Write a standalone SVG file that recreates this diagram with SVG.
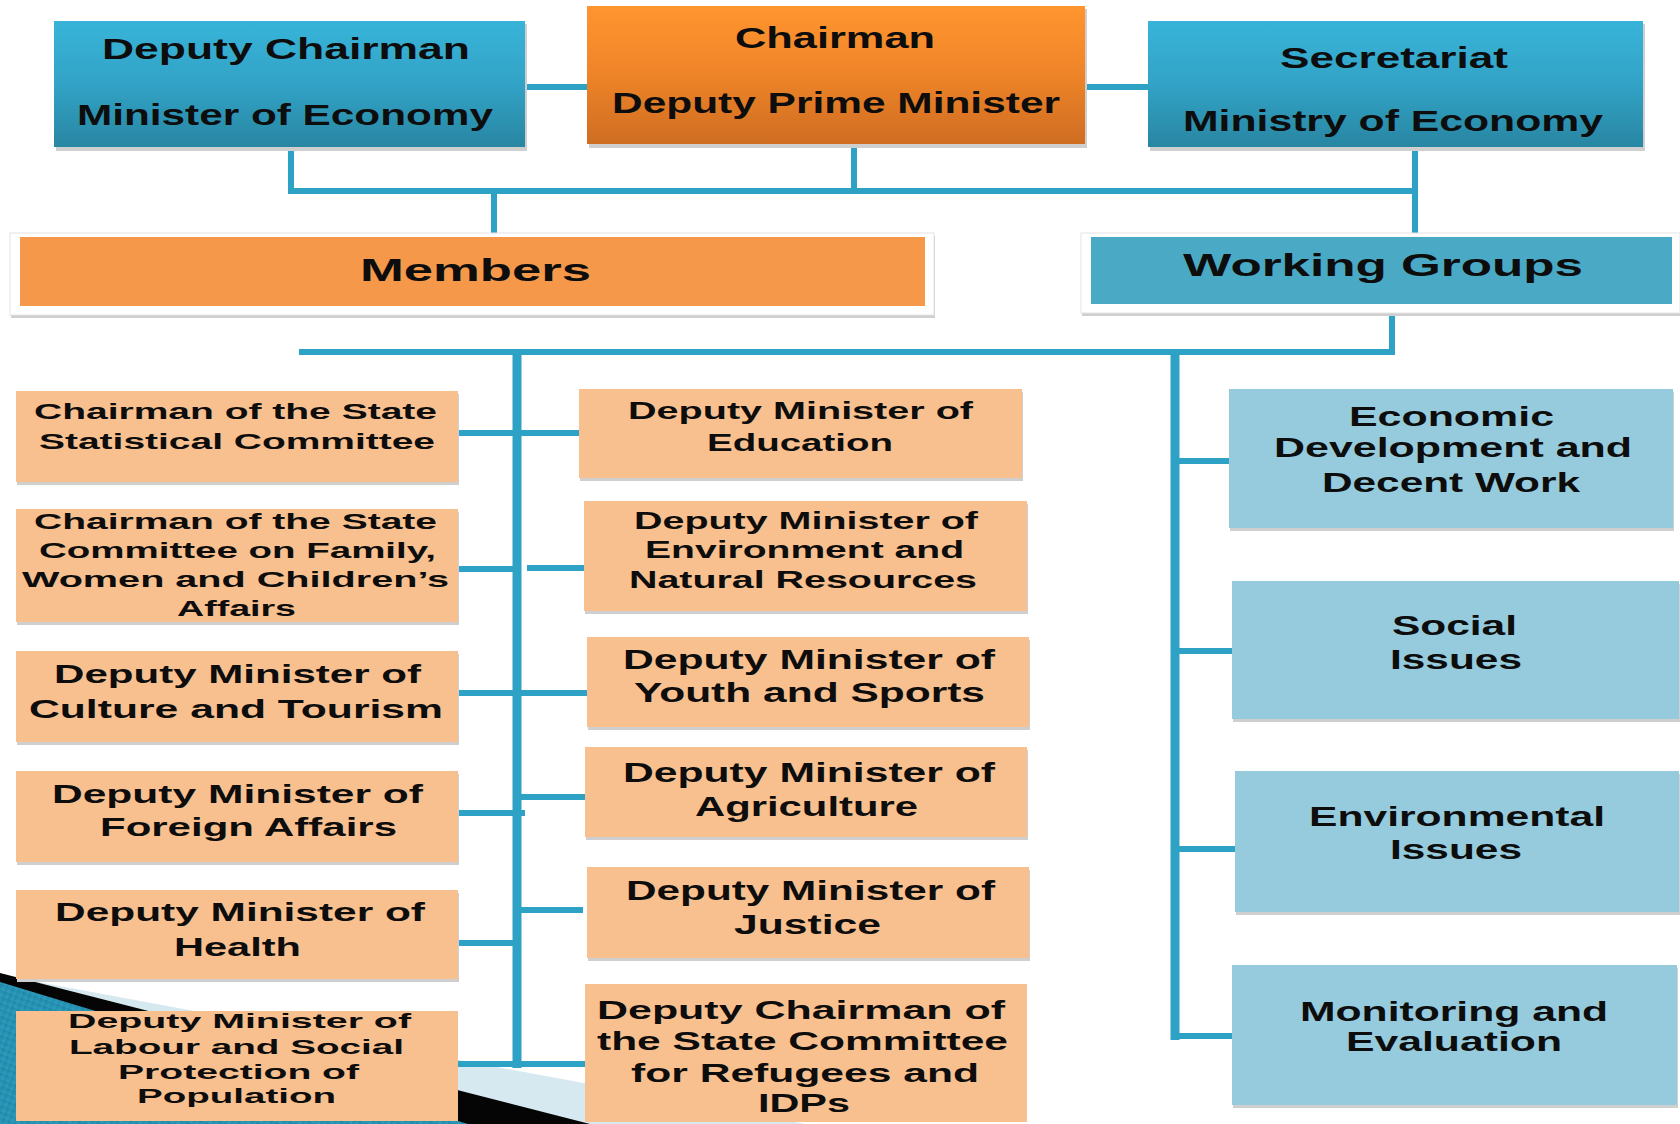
<svg xmlns="http://www.w3.org/2000/svg" width="1680" height="1124" viewBox="0 0 1680 1124">
<defs>
<linearGradient id="gBlue" x1="0" y1="0" x2="0" y2="1">
<stop offset="0" stop-color="#38b4d9"/><stop offset="0.5" stop-color="#32a3c6"/><stop offset="1" stop-color="#2886a2"/>
</linearGradient>
<linearGradient id="gOrange" x1="0" y1="0" x2="0" y2="1">
<stop offset="0" stop-color="#ff952f"/><stop offset="0.5" stop-color="#ee8428"/><stop offset="1" stop-color="#cf6d22"/>
</linearGradient>
<linearGradient id="gTeal" x1="0" y1="0" x2="1" y2="1">
<stop offset="0" stop-color="#1b7f9f"/><stop offset="1" stop-color="#2ea1c3"/>
</linearGradient>
<pattern id="stripes" width="6" height="6" patternUnits="userSpaceOnUse" patternTransform="rotate(20)">
<rect width="6" height="6" fill="url(#gTeal)"/>
<line x1="0" y1="0" x2="0" y2="6" stroke="#5fb9d4" stroke-width="1" opacity="0.5"/>
</pattern>
<style>
.sh{fill:#cfcfcf}
.lo{fill:#f9c08f}
.lb{fill:#95cbdc}
.card{fill:#ffffff;stroke:#e4e4e4;stroke-width:1}
.t{font-family:"Liberation Sans",Arial,sans-serif;font-weight:bold;fill:#0d0d0d}
.c{fill:none;stroke:#2ea2c4;stroke-width:6;stroke-linecap:butt}
.trunk{stroke-width:9}
</style>
</defs>
<rect width="1680" height="1124" fill="#ffffff"/>

<g id="decoration">
<polygon points="0,975 805,1124 0,1124" fill="#d6e9f1"/>
<polygon points="0,973 590,1124 0,1124" fill="#050505"/>
<polygon points="0,982 468,1124 0,1124" fill="url(#stripes)"/>
</g>

<g id="connectors">
<path class="c" d="M525 87H588M1085 87H1148M291 147V191M288 191H1418M854 144V191M494 191V240M1415 147V240M1392 306V352M299 352H1395"/>
<path class="c trunk" d="M517 349V1068M1175 349V1040"/>
<path class="c" d="M458 433H579M458 569H517M527 568H593M452 693H588M458 813H525M517 797H587M456 943H517M517 910H583M454 1064H585"/>
<path class="c" d="M1175 461H1234M1175 651H1234M1175 849H1235M1175 1036H1232"/>
</g>

<g id="deputy-chairman">
<rect class="sh" x="56" y="24" width="471" height="127"/>
<rect x="54" y="21" width="471" height="126" fill="url(#gBlue)"/>
<text class="t" x="102" y="59" font-size="29" textLength="368" lengthAdjust="spacingAndGlyphs">Deputy Chairman</text>
<text class="t" x="77" y="125" font-size="29" textLength="416" lengthAdjust="spacingAndGlyphs">Minister of Economy</text>
</g>
<g id="chairman">
<rect class="sh" x="589" y="9" width="498" height="139"/>
<rect x="587" y="6" width="498" height="138" fill="url(#gOrange)"/>
<text class="t" x="735" y="48" font-size="29" textLength="200" lengthAdjust="spacingAndGlyphs">Chairman</text>
<text class="t" x="612" y="113" font-size="29" textLength="448" lengthAdjust="spacingAndGlyphs">Deputy Prime Minister</text>
</g>
<g id="secretariat">
<rect class="sh" x="1150" y="24" width="495" height="127"/>
<rect x="1148" y="21" width="495" height="126" fill="url(#gBlue)"/>
<text class="t" x="1280" y="68" font-size="29" textLength="228" lengthAdjust="spacingAndGlyphs">Secretariat</text>
<text class="t" x="1183" y="131" font-size="29" textLength="420" lengthAdjust="spacingAndGlyphs">Ministry of Economy</text>
</g>

<g id="members">
<rect class="sh" x="11" y="236" width="924" height="82"/>
<rect class="card" x="10" y="233" width="924" height="82"/>
<rect x="20" y="237" width="905" height="69" fill="#f5984a"/>
<text class="t" x="360" y="281" font-size="32" textLength="231" lengthAdjust="spacingAndGlyphs">Members</text>
</g>
<g id="working-groups">
<rect class="sh" x="1082" y="236" width="599" height="80"/>
<rect class="card" x="1081" y="233" width="599" height="80"/>
<rect x="1091" y="237" width="581" height="67" fill="#4aaac6"/>
<text class="t" x="1183" y="276" font-size="32" textLength="400" lengthAdjust="spacingAndGlyphs">Working Groups</text>
</g>

<g id="stat-committee">
<rect class="sh" x="17" y="394" width="442" height="91"/>
<rect class="lo" x="16" y="391" width="442" height="91"/>
<text class="t" x="34" y="419" font-size="22" textLength="403" lengthAdjust="spacingAndGlyphs">Chairman of the State</text>
<text class="t" x="39" y="449" font-size="22" textLength="396" lengthAdjust="spacingAndGlyphs">Statistical Committee</text>
</g>
<g id="family-committee">
<rect class="sh" x="17" y="512" width="442" height="113"/>
<rect class="lo" x="16" y="509" width="442" height="113"/>
<text class="t" x="34" y="529" font-size="22" textLength="403" lengthAdjust="spacingAndGlyphs">Chairman of the State</text>
<text class="t" x="39" y="558" font-size="22" textLength="397" lengthAdjust="spacingAndGlyphs">Committee on Family,</text>
<text class="t" x="22" y="587" font-size="22" textLength="427" lengthAdjust="spacingAndGlyphs">Women and Children’s</text>
<text class="t" x="177" y="616" font-size="22" textLength="119" lengthAdjust="spacingAndGlyphs">Affairs</text>
</g>
<g id="culture">
<rect class="sh" x="17" y="654" width="442" height="91"/>
<rect class="lo" x="16" y="651" width="442" height="91"/>
<text class="t" x="54" y="683" font-size="26" textLength="367" lengthAdjust="spacingAndGlyphs">Deputy Minister of</text>
<text class="t" x="29" y="718" font-size="26" textLength="414" lengthAdjust="spacingAndGlyphs">Culture and Tourism</text>
</g>
<g id="foreign">
<rect class="sh" x="17" y="774" width="442" height="91"/>
<rect class="lo" x="16" y="771" width="442" height="91"/>
<text class="t" x="52" y="803" font-size="25" textLength="371" lengthAdjust="spacingAndGlyphs">Deputy Minister of</text>
<text class="t" x="100" y="836" font-size="25" textLength="297" lengthAdjust="spacingAndGlyphs">Foreign Affairs</text>
</g>
<g id="health">
<rect class="sh" x="17" y="893" width="442" height="89"/>
<rect class="lo" x="16" y="890" width="442" height="89"/>
<text class="t" x="55" y="921" font-size="26" textLength="370" lengthAdjust="spacingAndGlyphs">Deputy Minister of</text>
<text class="t" x="174" y="956" font-size="26" textLength="127" lengthAdjust="spacingAndGlyphs">Health</text>
</g>
<g id="labour">
<rect class="lo" x="16" y="1011" width="442" height="110"/>
<text class="t" x="68" y="1028" font-size="21" textLength="343" lengthAdjust="spacingAndGlyphs">Deputy Minister of</text>
<text class="t" x="69" y="1054" font-size="21" textLength="335" lengthAdjust="spacingAndGlyphs">Labour and Social</text>
<text class="t" x="118" y="1079" font-size="21" textLength="241" lengthAdjust="spacingAndGlyphs">Protection of</text>
<text class="t" x="137" y="1103" font-size="21" textLength="199" lengthAdjust="spacingAndGlyphs">Population</text>
</g>

<g id="education">
<rect class="sh" x="580" y="392" width="443" height="89"/>
<rect class="lo" x="579" y="389" width="443" height="89"/>
<text class="t" x="628" y="419" font-size="23.5" textLength="345" lengthAdjust="spacingAndGlyphs">Deputy Minister of</text>
<text class="t" x="707" y="451" font-size="23.5" textLength="186" lengthAdjust="spacingAndGlyphs">Education</text>
</g>
<g id="environment">
<rect class="sh" x="585" y="504" width="443" height="110"/>
<rect class="lo" x="584" y="501" width="443" height="110"/>
<text class="t" x="634" y="529" font-size="23.5" textLength="344" lengthAdjust="spacingAndGlyphs">Deputy Minister of</text>
<text class="t" x="645" y="558" font-size="23.5" textLength="319" lengthAdjust="spacingAndGlyphs">Environment and</text>
<text class="t" x="629" y="588" font-size="23.5" textLength="348" lengthAdjust="spacingAndGlyphs">Natural Resources</text>
</g>
<g id="youth">
<rect class="sh" x="588" y="640" width="442" height="90"/>
<rect class="lo" x="587" y="637" width="442" height="90"/>
<text class="t" x="623" y="669" font-size="28" textLength="372" lengthAdjust="spacingAndGlyphs">Deputy Minister of</text>
<text class="t" x="634" y="702" font-size="28" textLength="351" lengthAdjust="spacingAndGlyphs">Youth and Sports</text>
</g>
<g id="agriculture">
<rect class="sh" x="586" y="750" width="442" height="90"/>
<rect class="lo" x="585" y="747" width="442" height="90"/>
<text class="t" x="623" y="782" font-size="27" textLength="372" lengthAdjust="spacingAndGlyphs">Deputy Minister of</text>
<text class="t" x="695" y="816" font-size="27" textLength="223" lengthAdjust="spacingAndGlyphs">Agriculture</text>
</g>
<g id="justice">
<rect class="sh" x="588" y="870" width="442" height="91"/>
<rect class="lo" x="587" y="867" width="442" height="91"/>
<text class="t" x="626" y="900" font-size="27" textLength="369" lengthAdjust="spacingAndGlyphs">Deputy Minister of</text>
<text class="t" x="734" y="934" font-size="27" textLength="147" lengthAdjust="spacingAndGlyphs">Justice</text>
</g>
<g id="refugees">
<rect class="lo" x="585" y="984" width="442" height="138"/>
<text class="t" x="597" y="1019" font-size="25" textLength="408" lengthAdjust="spacingAndGlyphs">Deputy Chairman of</text>
<text class="t" x="597" y="1050" font-size="25" textLength="411" lengthAdjust="spacingAndGlyphs">the State Committee</text>
<text class="t" x="631" y="1082" font-size="25" textLength="348" lengthAdjust="spacingAndGlyphs">for Refugees and</text>
<text class="t" x="758" y="1112" font-size="25" textLength="92" lengthAdjust="spacingAndGlyphs">IDPs</text>
</g>

<g id="wg-economic">
<rect class="sh" x="1230" y="392" width="444" height="139"/>
<rect class="lb" x="1229" y="389" width="444" height="139"/>
<text class="t" x="1349" y="426" font-size="27" textLength="205" lengthAdjust="spacingAndGlyphs">Economic</text>
<text class="t" x="1274" y="457" font-size="27" textLength="358" lengthAdjust="spacingAndGlyphs">Development and</text>
<text class="t" x="1322" y="492" font-size="27" textLength="258" lengthAdjust="spacingAndGlyphs">Decent Work</text>
</g>
<g id="wg-social">
<rect class="sh" x="1233" y="584" width="447" height="138"/>
<rect class="lb" x="1232" y="581" width="447" height="138"/>
<text class="t" x="1392" y="635" font-size="27" textLength="125" lengthAdjust="spacingAndGlyphs">Social</text>
<text class="t" x="1390" y="669" font-size="27" textLength="132" lengthAdjust="spacingAndGlyphs">Issues</text>
</g>
<g id="wg-environmental">
<rect class="sh" x="1236" y="774" width="444" height="141"/>
<rect class="lb" x="1235" y="771" width="444" height="141"/>
<text class="t" x="1309" y="826" font-size="27" textLength="296" lengthAdjust="spacingAndGlyphs">Environmental</text>
<text class="t" x="1390" y="859" font-size="27" textLength="132" lengthAdjust="spacingAndGlyphs">Issues</text>
</g>
<g id="wg-monitoring">
<rect class="sh" x="1233" y="968" width="445" height="140"/>
<rect class="lb" x="1232" y="965" width="445" height="140"/>
<text class="t" x="1300" y="1021" font-size="27" textLength="308" lengthAdjust="spacingAndGlyphs">Monitoring and</text>
<text class="t" x="1346" y="1051" font-size="27" textLength="216" lengthAdjust="spacingAndGlyphs">Evaluation</text>
</g>
</svg>
